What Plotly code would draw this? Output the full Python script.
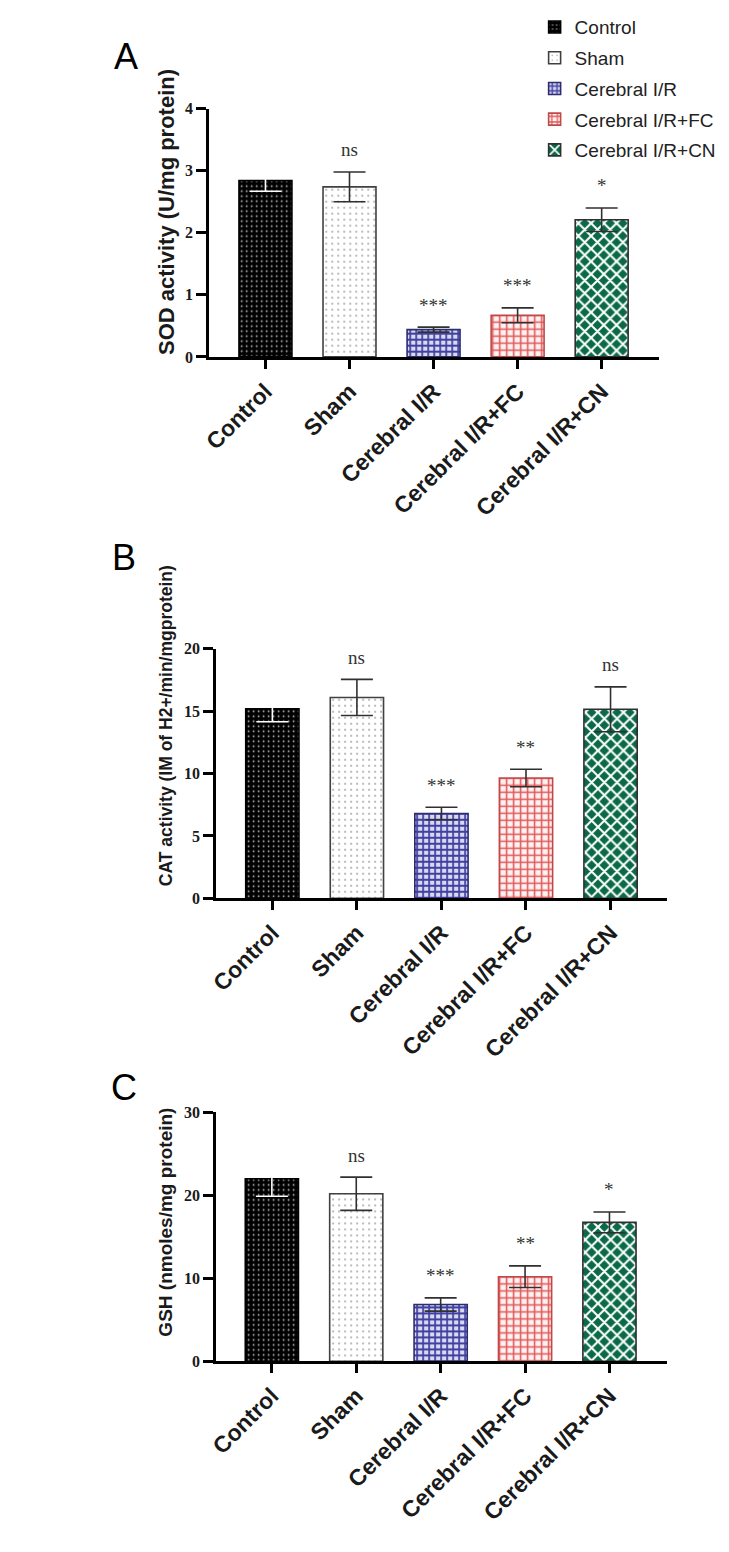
import plotly.graph_objects as go

categories = ["Control", "Sham", "Cerebral I/R", "Cerebral I/R+FC", "Cerebral I/R+CN"]

sod_mean = [2.84, 2.74, 0.44, 0.67, 2.21]
sod_sd = [0.17, 0.24, 0.04, 0.12, 0.19]
sod_sig = ["", "ns", "***", "***", "*"]

cat_mean = [15.2, 16.1, 6.8, 9.65, 15.15]
cat_sd = [1.05, 1.45, 0.5, 0.7, 1.8]
cat_sig = ["", "ns", "***", "**", "ns"]

gsh_mean = [22.0, 20.2, 6.85, 10.2, 16.75]
gsh_sd = [2.1, 2.0, 0.8, 1.3, 1.25]
gsh_sig = ["", "ns", "***", "**", "*"]

panel_titles = ["SOD activity (U/mg protein)",
                "CAT activity (IM of H2+/min/mgprotein)",
                "GSH (nmoles/mg protein)"]
panel_letters = ["A", "B", "C"]
y_ticks = [[0, 1, 2, 3, 4], [0, 5, 10, 15, 20], [0, 10, 20, 30]]

# styles
patterns = [
    dict(shape=".", bgcolor="black", fgcolor="#c0c0c0", size=5, solidity=0.1, fillmode="replace"),
    dict(shape=".", bgcolor="white", fgcolor="#9a9a9a", size=6, solidity=0.07, fillmode="replace"),
    dict(shape="+", bgcolor="#d8d8f2", fgcolor="#4040a0", size=6, solidity=0.5, fillmode="replace"),
    dict(shape="+", bgcolor="#fff2f2", fgcolor="#e05858", size=7, solidity=0.4, fillmode="replace"),
    dict(shape="x", bgcolor="#0a6a48", fgcolor="white", size=9, solidity=0.4, fillmode="replace"),
]
line_colors = ["black", "#404040", "#2c2c70", "#c04848", "#303030"]
err_colors = ["white", "#303030", "#303030", "#303030", "#303030"]

# page has an 8px body margin; figure sized so the page fits the window
OFF = 8
W, H = 729 - 2 * OFF, 1552 - 2 * OFF


def fx(px):
    return (px - OFF) / W


def fy(py):
    return 1 - (py - OFF) / H


panels = [
    dict(mean=sod_mean, sd=sod_sd, sig=sod_sig, x0=204, x1=660, tick0=261, step=85.25,
         ytop=96, ybot=348, yr=[0, 4], title_y=201, title_size=22, letter=(120, 43)),
    dict(mean=cat_mean, sd=cat_sd, sig=cat_sig, x0=211, x1=668, tick0=268, step=85.75,
         ytop=644.3, ybot=897.7, yr=[0, 20], title_y=722, title_size=17.5, letter=(118, 552)),
    dict(mean=gsh_mean, sd=gsh_sd, sig=gsh_sig, x0=211, x1=668, tick0=267.5, step=85.6,
         ytop=1115, ybot=1367.7, yr=[0, 30], title_y=1226, title_size=19, letter=(118, 1090)),
]

fig = go.Figure()
annotations = []
xs = list(range(len(categories)))

for p_i, p in enumerate(panels):
    sfx = "" if p_i == 0 else str(p_i + 1)
    xref, yref = "x" + sfx, "y" + sfx
    for i, cat in enumerate(categories):
        fig.add_trace(go.Bar(
            x=[xs[i]], y=[p["mean"][i]],
            width=0.63,
            name=cat,
            showlegend=(p_i == 0),
            legendgroup=cat,
            marker=dict(color=patterns[i]["bgcolor"], pattern=patterns[i],
                        line=dict(color=line_colors[i], width=1.6)),
            error_y=dict(type="data", array=[p["sd"][i]], visible=True,
                         color=err_colors[i], thickness=1.6, width=16),
            xaxis=xref, yaxis=yref,
        ))
        if p["sig"][i]:
            annotations.append(dict(
                x=xs[i], y=p["mean"][i] + p["sd"][i], xref=xref, yref=yref,
                text=p["sig"][i], showarrow=False, yanchor="middle", yshift=22,
                font=dict(family="Liberation Serif", size=19, color="#333333"),
            ))
    left = (p["x0"] - p["tick0"]) / p["step"]
    right = (p["x1"] - p["tick0"]) / p["step"]
    fig.layout["xaxis" + sfx] = dict(
        domain=[fx(p["x0"]), fx(p["x1"])], range=[left, right], anchor=yref,
        tickvals=xs, ticktext=categories, tickangle=-45,
        tickfont=dict(family="Liberation Sans", size=23, color="#1a1a1a", weight="bold"),
        showline=True, linewidth=3, linecolor="black", ticks="outside",
        ticklen=9, tickwidth=3, tickcolor="black", showgrid=False, zeroline=False,
        fixedrange=True,
    )
    fig.layout["yaxis" + sfx] = dict(
        domain=[fy(p["ybot"]), fy(p["ytop"])], range=p["yr"], anchor=xref,
        tickvals=y_ticks[p_i],
        tickfont=dict(family="Liberation Serif", size=16, color="#1a1a1a", weight="bold"),
        showline=True, linewidth=3, linecolor="black", ticks="outside",
        ticklen=10, tickwidth=3, tickcolor="black", showgrid=False, zeroline=False,
        fixedrange=True,
    )
    annotations.append(dict(
        x=fx(160), y=fy(p["title_y"]), xref="paper", yref="paper",
        text=panel_titles[p_i], textangle=-90, showarrow=False,
        xanchor="center", yanchor="middle",
        font=dict(family="Liberation Sans", size=p["title_size"], color="#1a1a1a", weight="bold"),
    ))
    annotations.append(dict(
        x=fx(p["letter"][0]), y=fy(p["letter"][1]), xref="paper", yref="paper",
        text=panel_letters[p_i], showarrow=False, xanchor="center", yanchor="middle",
        font=dict(family="Liberation Sans", size=36, color="black"),
    ))

fig.update_layout(
    width=W, height=H, autosize=False,
    margin=dict(l=0, r=0, t=0, b=0),
    paper_bgcolor="white", plot_bgcolor="white",
    barmode="overlay",
    showlegend=True,
    legend=dict(x=fx(534), y=fy(-6), xanchor="left", yanchor="top",
                font=dict(family="Liberation Sans", size=19, color="#222222"),
                bgcolor="rgba(0,0,0,0)", traceorder="grouped", tracegroupgap=3),
    annotations=annotations,
)

fig.write_html("out.html")
